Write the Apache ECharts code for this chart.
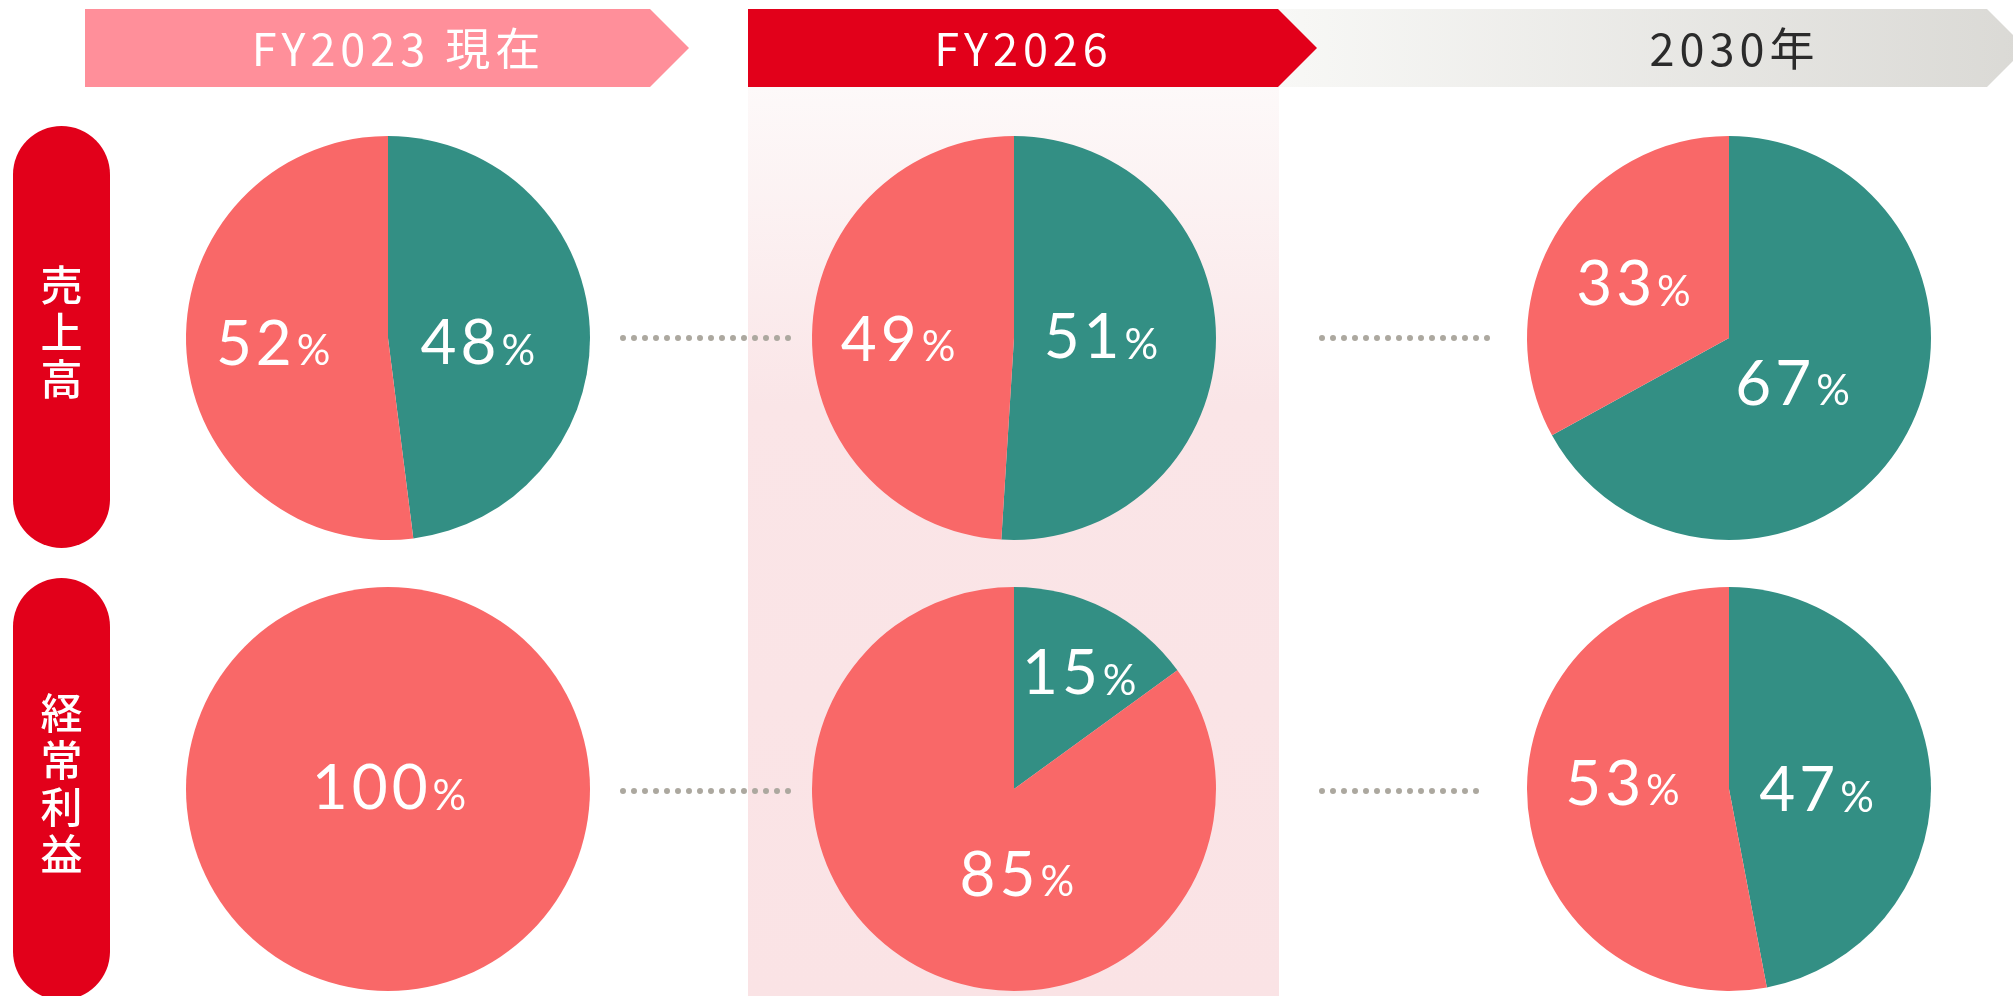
<!DOCTYPE html>
<html>
<head>
<meta charset="utf-8">
<script src="https://cdn.jsdelivr.net/npm/echarts@6/dist/echarts.min.js"></script>
<style>
  html, body { margin: 0; padding: 0; background: #fff; }
  #chart { width: 2013px; height: 996px; }
</style>
</head>
<body>
<div id="chart"></div>
<script>
// periods (columns) and metrics (rows)
const periods = ['FY2023 現在', 'FY2026', '2030年']
const metrics = ['売上高', '経常利益']

// share in %, teal slice first (clockwise from 12 o'clock), then salmon
const salesTeal = [48, 51, 67]
const salesSalmon = [52, 49, 33]
const profitTeal = [0, 15, 47]
const profitSalmon = [100, 85, 53]

const TEAL = '#338f84'
const SALMON = '#f96868'
const RED = '#e2001a'

// layout
const colX = [388, 1014, 1729]
const rowY = [338, 789]
const R = 202

// hand placed labels in the original: small pixel nudges [teal, salmon] per column
const salesNudge = [[[-15, 13], [-12, 0]], [[-18, -3], [-13, 6]], [[-27, -6], [-7, 0]]]
const profitNudge = [[[0, 0], [0, 0]], [[17, -22], [49, -6]], [[-17, 12], [-4, -14]]]

const chart = echarts.init(document.getElementById('chart'), null, { renderer: 'canvas' })

const labelRich = {
  n: { fontFamily: 'Lato', fontSize: 62, color: '#fff', verticalAlign: 'bottom', padding: [0, 2] },
  p: { fontFamily: 'Lato', fontSize: 42, color: '#fff', verticalAlign: 'bottom', padding: [0, 0, 3, 3] }
}

// spread characters apart, the original uses wide tracking
function track(str, key) {
  return str.split('').map(c => '{' + key + '|' + c + '}').join('')
}

function pieSeries(teal, salmon, cx, cy, nudge) {
  const item = (v, color) => {
    const d = { value: v, itemStyle: { color } }
    if (v === 0) d.label = { show: false }
    if (v === 100) d.label = { position: 'center' }
    return d
  }
  return {
    type: 'pie',
    center: [cx, cy],
    radius: [0, R],
    startAngle: 90,
    clockwise: true,
    silent: true,
    animation: false,
    avoidLabelOverlap: false,
    label: {
      show: true,
      position: 'inside',
      formatter: p => track(String(p.value), 'n') + '{p|%}',
      rich: labelRich
    },
    labelLayout: p => ({ dx: nudge[p.dataIndex][0], dy: nudge[p.dataIndex][1] }),
    labelLine: { show: false },
    emphasis: { disabled: true },
    data: [item(teal, TEAL), item(salmon, SALMON)]
  }
}

const series = []
for (let i = 0; i < periods.length; i++) {
  series.push(pieSeries(salesTeal[i], salesSalmon[i], colX[i], rowY[0], salesNudge[i]))
  series.push(pieSeries(profitTeal[i], profitSalmon[i], colX[i], rowY[1], profitNudge[i]))
}

// header arrows
const H_TOP = 9, H_BOT = 87, H_MID = 48, TIP = 39
function arrow(x0, x1, fill) {
  return {
    type: 'polygon',
    shape: { points: [[x0, H_TOP], [x1, H_TOP], [x1 + TIP, H_MID], [x1, H_BOT], [x0, H_BOT]] },
    style: { fill },
    silent: true
  }
}

function headerText(text, x, color) {
  return {
    type: 'text',
    x, y: H_MID + 1,
    style: {
      text: track(text, 'h'),
      rich: { h: { fill: color, fontFamily: 'Noto Sans CJK JP', fontSize: 45, padding: [0, 2.5] } },
      fill: color,
      align: 'center', verticalAlign: 'middle',
      textAlign: 'center', textVerticalAlign: 'middle'
    },
    silent: true, z: 10
  }
}

function pill(y, label) {
  return [
    {
      type: 'rect',
      shape: { x: 13, y, width: 97, height: 422, r: 48.5 },
      style: { fill: RED },
      silent: true
    },
    {
      type: 'text',
      x: 61.5, y: y + 206,
      style: {
        text: label.split('').join('\n'),
        fill: '#fff',
        font: '500 42px "Noto Sans CJK JP"',
        lineHeight: 47,
        align: 'center', verticalAlign: 'middle',
        textAlign: 'center', textVerticalAlign: 'middle'
      },
      silent: true, z: 10
    }
  ]
}

function dots(x0, x1, y) {
  return {
    type: 'line',
    shape: { x1: x0, y1: y, x2: x1, y2: y },
    style: { stroke: '#aca89f', lineWidth: 6, lineCap: 'round', lineDash: [0, 11] },
    silent: true, z: 5
  }
}

const graphic = [
  // highlighted FY2026 column
  {
    type: 'rect',
    shape: { x: 748, y: 87, width: 531, height: 909 },
    style: {
      fill: new echarts.graphic.LinearGradient(0, 0, 0, 1, [
        { offset: 0, color: '#fdf9f9' },
        { offset: 0.35, color: '#fae5e7' },
        { offset: 1, color: '#fae3e5' }
      ])
    },
    silent: true, z: -10
  },
  {
    type: 'polygon',
    shape: { points: [[1278, H_TOP], [1987, H_TOP], [1987 + TIP, H_MID], [1987, H_BOT], [1278, H_BOT]] },
    style: {
      fill: new echarts.graphic.LinearGradient(0, 0, 1, 0, [
        { offset: 0, color: '#f8f8f6' },
        { offset: 1, color: '#dad9d5' }
      ])
    },
    silent: true
  },
  arrow(85, 650, '#ff8f9a'),
  arrow(748, 1278, RED),
  headerText(periods[0], colX[0] + 8, '#fff'),
  headerText(periods[1], colX[1] + 7, '#fff'),
  headerText(periods[2], colX[2] + 3, '#2b2b2b'),
  ...pill(126, metrics[0]),
  ...pill(578, metrics[1]),
  dots(623, 790, rowY[0]),
  dots(1322, 1490, rowY[0]),
  dots(623, 790, rowY[1] + 2),
  dots(1322, 1480, rowY[1] + 2)
]

chart.setOption({
  animation: false,
  backgroundColor: '#ffffff',
  graphic: { elements: graphic },
  series
})

window.addEventListener('resize', () => chart.resize())
</script>
</body>
</html>
